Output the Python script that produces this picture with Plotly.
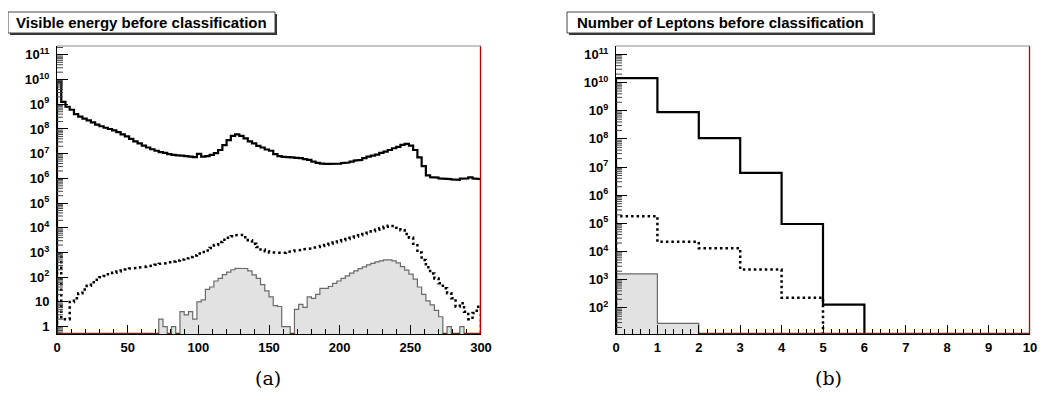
import math
import plotly.graph_objects as go

# ---------------- data: panel (a) Visible energy, 100 bins of width 3 from 0 to 300 ----------------
energy_edges = [3 * i for i in range(101)]
# log10 of bin contents
energy_total_log = [
    9.92, 9.10, 8.90, 8.78, 8.60, 8.50, 8.42, 8.35, 8.27, 8.18,
    8.11, 8.05, 8.00, 7.94, 7.87, 7.78, 7.70, 7.60, 7.50, 7.42,
    7.33, 7.25, 7.18, 7.12, 7.06, 7.03, 6.98, 6.95, 6.93, 6.92,
    6.90, 6.88, 6.86, 6.99, 6.88, 6.90, 6.95, 7.02, 7.15, 7.35,
    7.55, 7.72, 7.78, 7.72, 7.62, 7.50, 7.42, 7.32, 7.25, 7.17,
    7.12, 6.98, 6.90, 6.87, 6.86, 6.85, 6.83, 6.82, 6.78, 6.75,
    6.68, 6.63, 6.60, 6.59, 6.59, 6.58, 6.60, 6.62, 6.64, 6.68,
    6.72, 6.75, 6.82, 6.88, 6.92, 6.96, 7.03, 7.08, 7.15, 7.22,
    7.28, 7.36, 7.40, 7.33, 7.15, 6.85, 6.50, 6.12, 6.05, 6.03,
    6.00, 5.98, 5.97, 5.96, 5.94, 5.99, 6.00, 6.04, 6.00, 5.97,
]
energy_dotted_log = [
    2.97, 0.30, 0.30, 1.00, 1.15, 1.35, 1.50, 1.65, 1.80, 1.90,
    2.00, 2.05, 2.12, 2.18, 2.23, 2.27, 2.31, 2.35, 2.37, 2.39,
    2.42, 2.44, 2.47, 2.50, 2.54, 2.57, 2.60, 2.64, 2.68, 2.72,
    2.77, 2.82, 2.88, 2.96, 3.02, 3.08, 3.18, 3.30, 3.42, 3.52,
    3.60, 3.66, 3.70, 3.71, 3.62, 3.50, 3.35, 3.22, 3.12, 3.05,
    3.00, 2.98, 2.97, 2.99, 3.02, 3.05, 3.08, 3.10, 3.13, 3.16,
    3.19, 3.22, 3.26, 3.30, 3.35, 3.40, 3.45, 3.50, 3.55, 3.60,
    3.65, 3.70, 3.75, 3.80, 3.86, 3.92, 3.98, 4.04, 4.08, 4.07,
    4.00, 3.90, 3.75, 3.60, 3.35, 3.00, 2.70, 2.40, 2.15, 1.95,
    1.75, 1.55, 1.35, 1.15, 0.81, 0.95, 0.60, 0.30, 0.55, 0.80,
]
# signal (filled grey) bin contents, 0 = empty bin
energy_signal = [
    0, 0, 0, 0, 0, 0, 0, 0, 0, 0,
    0, 0, 0, 0, 0, 0, 0, 0, 0, 0,
    0, 0, 0, 0, 2, 1, 0, 1, 0, 4,
    3, 4, 2, 10, 12, 32, 40, 70, 90, 126,
    160, 200, 230, 230, 225, 180, 125, 90, 50, 28,
    16, 7, 6.5, 1, 1, 0, 5, 8, 6, 16,
    14, 20, 35, 35, 42, 56, 70, 90, 112, 145,
    180, 224, 263, 316, 363, 417, 457, 500, 500, 457,
    380, 270, 195, 132, 83, 40, 20, 11, 7.6, 4.5,
    2.5, 0, 1, 0, 0, 1, 0, 0, 0, 0,
]

# ---------------- data: panel (b) Number of leptons, 10 bins of width 1 ----------------
lepton_edges = list(range(11))
lepton_total = [1.45e10, 8.9e8, 1.07e8, 6.2e6, 9.5e4, 1.3e2, 0, 0, 0, 0]
lepton_dotted = [1.8e5, 2.2e4, 1.3e4, 2.3e3, 2.3e2, 0, 0, 0, 0, 0]
lepton_signal = [1.6e3, 28, 0, 0, 0, 0, 0, 0, 0, 0]

energy_xticks = [0, 50, 100, 150, 200, 250, 300]
lepton_xticks = list(range(11))
sup = {2: "10<sup>2</sup>", 3: "10<sup>3</sup>", 4: "10<sup>4</sup>", 5: "10<sup>5</sup>",
       6: "10<sup>6</sup>", 7: "10<sup>7</sup>", 8: "10<sup>8</sup>", 9: "10<sup>9</sup>",
       10: "10<sup>10</sup>", 11: "10<sup>11</sup>", 1: "10", 0: "1"}

# the page body has an 8px default margin: the figure is drawn 8px right/down
OFF = 8
W, H = 1047 - 2 * OFF, 411 - 3 * OFF
FLOOR = 1e-3

LEFT_X0, LEFT_X1 = 57, 481
RIGHT_X0, RIGHT_X1 = 616, 1030


def steps(edges, vals):
    xs, ys = [edges[0]], [FLOOR]
    for i, v in enumerate(vals):
        y = v if v > 0 else FLOOR
        xs += [edges[i], edges[i + 1]]
        ys += [y, y]
    xs.append(edges[-1])
    ys.append(FLOOR)
    return xs, ys


def px_x(p):
    return (p - OFF) / W


def px_y(p):
    return 1 - (p - OFF) / H


ytop = px_y(46)
ybot = px_y(334)

fig = go.Figure()
shapes = []
annotations = []

panels = [
    dict(xa="x", ya="y", edges=energy_edges,
         total=[10 ** v for v in energy_total_log],
         dotted=[10 ** v for v in energy_dotted_log],
         signal=energy_signal, xmax=300, first=0, ymin=-0.3, ymax=11.36,
         pxw=LEFT_X1 - LEFT_X0, right=LEFT_X1),
    dict(xa="x2", ya="y2", edges=lepton_edges,
         total=lepton_total, dotted=lepton_dotted,
         signal=lepton_signal, xmax=10, first=2, ymin=1.07, ymax=11.3,
         pxw=RIGHT_X1 - RIGHT_X0, right=RIGHT_X1),
]

for p in panels:
    sx, sy = steps(p["edges"], p["signal"])
    fig.add_trace(go.Scatter(x=sx, y=sy, mode="lines", fill="toself", fillcolor="#e2e2e2",
                             line=dict(color="#6a6a6a", width=1.2),
                             xaxis=p["xa"], yaxis=p["ya"], showlegend=False, hoverinfo="skip"))
    dx, dy = steps(p["edges"], p["dotted"])
    fig.add_trace(go.Scatter(x=dx, y=dy, mode="lines",
                             line=dict(color="black", width=2.5, dash="2.5px,3px"),
                             xaxis=p["xa"], yaxis=p["ya"], showlegend=False, hoverinfo="skip"))
    tx, ty = steps(p["edges"], p["total"])
    fig.add_trace(go.Scatter(x=tx, y=ty, mode="lines",
                             line=dict(color="black", width=2.2),
                             xaxis=p["xa"], yaxis=p["ya"], showlegend=False, hoverinfo="skip"))
    # minor log ticks on the y axis (drawn as short segments inside the frame)
    tl = 6 * p["xmax"] / p["pxw"]
    mx, my = [], []
    for k in range(p["first"] - 2, 12):
        for m in range(2, 10):
            v = m * 10 ** k
            if p["ymin"] < math.log10(v) < p["ymax"]:
                mx += [0, tl, None]
                my += [v, v, None]
    fig.add_trace(go.Scatter(x=mx, y=my, mode="lines", line=dict(color="#444", width=1),
                             xaxis=p["xa"], yaxis=p["ya"], showlegend=False, hoverinfo="skip"))
    # red empty-histogram line: along the bottom where the grey histogram is empty, and the right edge
    edges = p["edges"]
    i = 0
    n = len(p["signal"])
    while i < n:
        if p["signal"][i] == 0:
            j = i
            while j < n and p["signal"][j] == 0:
                j += 1
            shapes.append(dict(type="line", xref=p["xa"], yref="paper", x0=edges[i], x1=edges[j],
                               y0=ybot + 0.6 / H, y1=ybot + 0.6 / H,
                               line=dict(color="#b00000", width=1.3), layer="above"))
            i = j
        else:
            i += 1
    shapes.append(dict(type="line", xref="paper", yref="paper",
                       x0=px_x(p["right"] - 0.5), x1=px_x(p["right"] - 0.5),
                       y0=ybot, y1=ytop, line=dict(color="#c00000", width=1.3), layer="above"))

tickfont = dict(family="Liberation Sans", size=13, color="black", weight="bold")


def yaxis(lo, hi, dom_anchor, first):
    vals = [10 ** k for k in range(first, 12)]
    return dict(type="log", range=[lo, hi], domain=[ybot, ytop], anchor=dom_anchor,
                tickmode="array", tickvals=vals, ticktext=[sup[k] for k in range(first, 12)],
                ticks="inside", ticklen=11, tickwidth=1, tickcolor="black",
                showline=True, linecolor="black", linewidth=1, showgrid=False,
                zeroline=False, tickfont=tickfont, ticklabelstandoff=4, automargin=False,
                ticklabeloverflow="allow")


def xaxis(lo, hi, dom, anchor, ticks, minor_dt):
    return dict(range=[lo, hi], domain=dom, anchor=anchor, tickmode="array", tickvals=ticks,
                ticktext=[str(t) for t in ticks], ticks="inside", ticklen=9, tickwidth=1,
                tickcolor="black",
                minor=dict(dtick=minor_dt, tick0=0, ticks="inside", ticklen=5, tickcolor="black"),
                showline=True, linecolor="black", linewidth=1.2, showgrid=False, zeroline=False,
                tickfont=tickfont, ticklabelstandoff=1, automargin=False,
                ticklabeloverflow="allow")


fig.update_layout(
    width=W, height=H, autosize=False,
    margin=dict(l=0, r=0, t=0, b=0, pad=0),
    paper_bgcolor="white", plot_bgcolor="white",
    xaxis=xaxis(0, 300, [px_x(LEFT_X0), px_x(LEFT_X1)], "y", energy_xticks, 10),
    yaxis=yaxis(-0.3, 11.36, "x", 0),
    xaxis2=xaxis(0, 10, [px_x(RIGHT_X0), px_x(RIGHT_X1)], "y2", lepton_xticks, 0.2),
    yaxis2=yaxis(1.07, 11.3, "x2", 2),
)

# frame top lines
for x0, x1 in [(LEFT_X0, LEFT_X1), (RIGHT_X0, RIGHT_X1)]:
    shapes.append(dict(type="line", xref="paper", yref="paper", x0=px_x(x0), x1=px_x(x1),
                       y0=ytop, y1=ytop, line=dict(color="#8a8a8a", width=1)))

titles = [("Visible energy before classification", 8, 275),
          ("Number of Leptons before classification", 567, 873)]
for text, x0, x1 in titles:
    # shadow
    shapes.append(dict(type="rect", xref="paper", yref="paper",
                       x0=px_x(x0 + 2), x1=px_x(x1 + 2), y0=px_y(35), y1=px_y(14),
                       fillcolor="#333333", line=dict(width=0), layer="above"))
    shapes.append(dict(type="rect", xref="paper", yref="paper",
                       x0=px_x(x0), x1=px_x(x1), y0=px_y(33), y1=px_y(12),
                       fillcolor="white", line=dict(color="#444", width=1), layer="above"))
    annotations.append(dict(text="<b>" + text + "</b>", xref="paper", yref="paper",
                            x=px_x((x0 + x1) / 2), y=px_y(22.5), showarrow=False,
                            xanchor="center", yanchor="middle",
                            font=dict(family="Liberation Sans", size=15, color="black")))

for cap, cx in [("(a)", 268), ("(b)", 828)]:
    annotations.append(dict(text=cap, xref="paper", yref="paper", x=px_x(cx), y=px_y(378),
                            showarrow=False, xanchor="center", yanchor="middle",
                            font=dict(family="DejaVu Serif", size=19, color="black")))

fig.update_layout(shapes=shapes, annotations=annotations)
fig.write_html("out.html")
